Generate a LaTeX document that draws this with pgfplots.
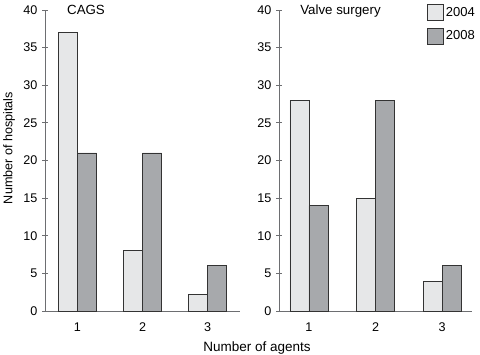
\documentclass[border=0pt]{standalone}
\usepackage{fontspec}
\setmainfont{Liberation Sans}
\usepackage{pgfplots}
\pgfplotsset{compat=1.18}
\definecolor{light}{HTML}{E6E7E8}
\definecolor{dark}{HTML}{A7A9AC}
\definecolor{axisgray}{HTML}{6D6E71}
\definecolor{edge}{HTML}{333333}
\pgfplotsset{
  panel/.style={
    scale only axis,
    height=301bp,
    ymin=0, ymax=40, ytick={0,5,...,40},
    xtick={1,2,3},
    axis x line*=bottom, axis y line*=left,
    axis line style={axisgray, line width=0.9pt},
    major x tick style={draw=none},
    ytick style={axisgray, line width=0.9pt},
    tick align=center, major tick length=6bp,
    ybar=0pt, bar width=19bp,
    /pgf/number format/assume math mode=true,
    tick label style={font=\fontsize{12.6bp}{14bp}\selectfont},
    yticklabel style={xshift=-1bp},
    xticklabel style={yshift=-2bp},
    clip=false,
  },
  lightbar/.style={fill=light, draw=edge, line width=0.8pt},
  darkbar/.style={fill=dark, draw=edge, line width=0.8pt},
}
\begin{document}
\begin{tikzpicture}[x=1bp,y=1bp]
\path[use as bounding box] (0,0) rectangle (480,354);
\begin{axis}[panel, at={(45bp,43bp)}, anchor=south west, width=195bp, xmin=0.5, xmax=3.5]
\addplot[lightbar] coordinates {(1,37) (2,8) (3,2.2)};
\addplot[darkbar] coordinates {(1,21) (2,21) (3,6)};
\end{axis}
\begin{axis}[panel, at={(279bp,43bp)}, anchor=south west, width=193bp, xmin=0.55, xmax=3.45,
  legend style={at={(rel axis cs:0.767,1.02)}, anchor=north west, draw=none, fill=none,
    inner sep=0pt, outer sep=0pt, row sep=7bp, font=\fontsize{13bp}{15bp}\selectfont,
    /tikz/every even column/.append style={column sep=0bp}},
  legend cell align=left,
  legend image code/.code={\draw[#1, line width=0.8pt] (0bp,-8bp) rectangle (16bp,8bp);}]
\addplot[lightbar] coordinates {(1,28) (2,15) (3,3.9)};
\addlegendentry{2004}
\addplot[darkbar] coordinates {(1,14) (2,28) (3,6)};
\addlegendentry{2008}
\end{axis}
\node[anchor=base, font=\fontsize{13.3bp}{15bp}\selectfont] at (86,340) {CAGS};
\node[anchor=base, font=\fontsize{13.3bp}{15bp}\selectfont] at (340.5,340) {Valve surgery};
\node[anchor=base, font=\fontsize{13.5bp}{15bp}\selectfont] at (257,3) {Number of agents};
\node[rotate=90, font=\fontsize{12.6bp}{15bp}\selectfont] at (9,206) {Number of hospitals};
\end{tikzpicture}
\end{document}
